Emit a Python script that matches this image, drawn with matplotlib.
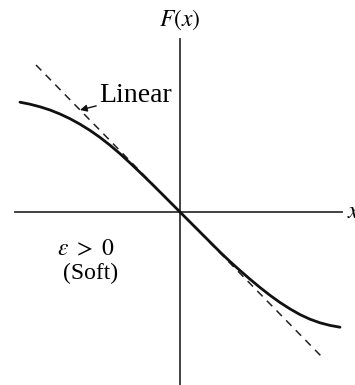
"""Restoring force of a soft spring compared with the linear (Hooke) force."""

import matplotlib.pyplot as plt

plt.rcParams["font.family"] = ["Liberation Serif", "DejaVu Serif"]
plt.rcParams["mathtext.fontset"] = "stix"

# soft-spring force curve F(x), sampled along the drawn curve
x_soft = [-160, -150, -140, -130, -120, -110, -100, -90, -80, -70, -60,
          -50, -40, -30, -20, -10, 0, 10, 20, 30, 40, 50, 60, 70, 80, 90,
          100, 110, 120, 130, 140, 150, 160]
f_soft = [109.8, 107.8, 105.2, 102, 98, 93.3, 87.8, 81.6, 74.6, 66.8, 58.3,
          49.1, 39.6, 29.9, 20, 10, 0, -10, -20, -30, -40, -49.5, -58.5,
          -67.2, -75.5, -83.3, -90.5, -96.9, -102.6, -107.2, -110.8,
          -113.4, -115.2]

# linear force F = -kx, drawn as the dashed tangent at the origin
x_lin = [-144, 141]
f_lin = [147, -144]


def main() -> None:
    fig = plt.figure(figsize=(3.55, 3.85), dpi=100)
    ax = fig.add_axes([0, 0, 1, 1])
    ax.set_xlim(-180, 175)
    ax.set_ylim(-173, 212)
    ax.axis("off")

    # coordinate axes
    ax.plot([-165, 162], [0, 0], color="#333333", lw=1.3)
    ax.plot([0, 0], [-175, 173], color="#333333", lw=1.3)

    ax.plot(x_lin, f_lin, color="#222222", lw=1.1, dashes=(5, 4))
    ax.plot(x_soft, f_soft, color="#111111", lw=2.0, solid_capstyle="round")

    ax.text(0, 192, r"$F(x)$", ha="center", va="center", fontsize=17)
    ax.text(167, 0, r"$x$", ha="left", va="center", fontsize=17)

    ax.annotate("Linear", xy=(-100, 102), xytext=(-81, 116),
                ha="left", va="center", fontsize=20,
                arrowprops=dict(arrowstyle="-|>", color="#111111", lw=1.0,
                                mutation_scale=10, shrinkA=0, shrinkB=0))

    ax.text(-94, -38, r"$\varepsilon\ >\ 0$", ha="center", va="center",
            fontsize=17)
    ax.text(-89, -61, "(Soft)", ha="center", va="center", fontsize=17)

    fig.savefig("out.png", dpi=100)
    plt.close(fig)


if __name__ == "__main__":
    main()
